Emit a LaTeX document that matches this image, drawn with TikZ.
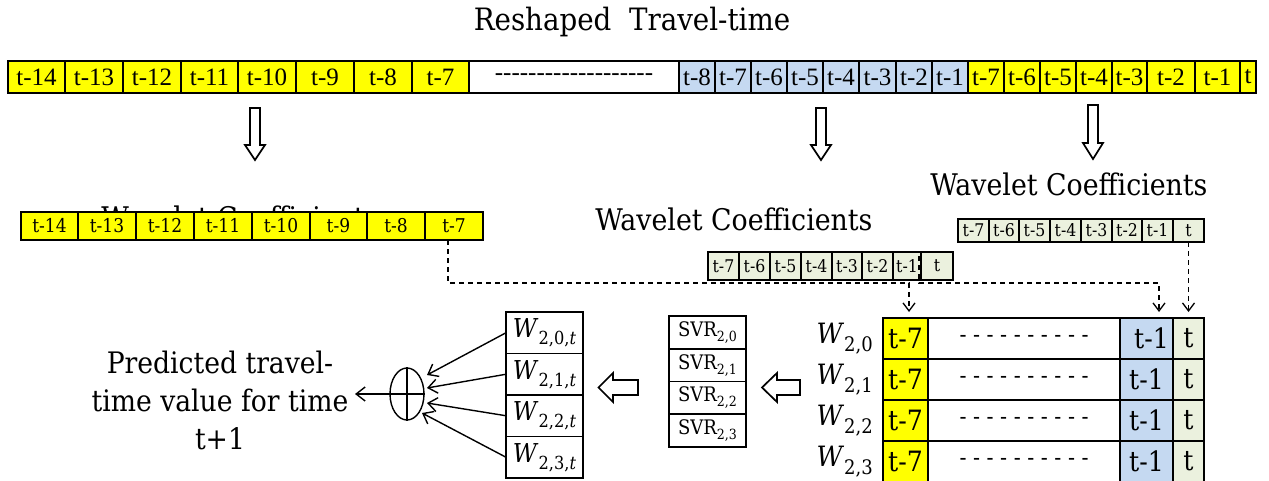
\documentclass[tikz,border=0pt]{standalone}
\usepackage{fontspec}
\setmainfont{DejaVu Serif Condensed}
\newfontfamily\timesfont{Liberation Serif}
\usetikzlibrary{shapes.geometric,arrows.meta,calc}

\definecolor{cellyellow}{RGB}{255,255,0}
\definecolor{cellblue}{RGB}{197,217,241}
\definecolor{cellgreen}{RGB}{235,241,222}

\tikzset{
  cellbox/.style={draw=black, line width=1.6pt, inner sep=0pt, outer sep=0pt, anchor=north west},
  toprow/.style={cellbox, minimum height=32pt, font=\timesfont\fontsize{25}{28}\selectfont},
  lowrow/.style={cellbox, fill=cellyellow, minimum height=28pt, font=\fontsize{19}{22}\selectfont},
  greenrow/.style={cellbox, fill=cellgreen, font=\fontsize{17.5}{21}\selectfont},
  gridcell/.style={cellbox, minimum height=41pt, font=\fontsize{28}{32}\selectfont},
  lbl/.style={font=\fontsize{29.8}{34}\selectfont, anchor=base, inner sep=0pt},
  dashconn/.style={line width=1.3pt, dash pattern=on 5pt off 4pt, shorten >=6pt,
    -{Straight Barb[length=8pt,width=12pt,line width=1.3pt]}},
  sumarrow/.style={line width=1.4pt, -{Straight Barb[length=9pt,width=14pt,line width=1.4pt]}},
  blockarrow/.style={draw=black, line width=1.7pt, fill=white, line join=miter},
}

% text with a lowered index: base, index size, drop, index
\newcommand\withsub[4]{#1\raisebox{-#3}{\fontsize{#2}{#2}\selectfont #4}}

% hollow block arrow pointing down: centre x, top y, head start y, tip y
\newcommand\dnarrow[4]{%
  \draw[blockarrow] ({#1-5},#2) -- ({#1+5},#2) -- ({#1+5},#3) -- ({#1+10},#3)
    -- (#1,#4) -- ({#1-10},#3) -- ({#1-5},#3) -- cycle;}
% hollow block arrow pointing left: tip x, head back x, tail x, centre y
\newcommand\lfarrow[4]{%
  \draw[blockarrow] (#1,#4) -- (#2,{#4-14.5}) -- (#2,{#4-7.5}) -- (#3,{#4-7.5})
    -- (#3,{#4+7.5}) -- (#2,{#4+7.5}) -- (#2,{#4+14.5}) -- cycle;}

\begin{document}
\begin{tikzpicture}[x=1pt,y=-1pt]
\useasboundingbox (0,0) rectangle (1269,481);

% title
\node[lbl, font=\fontsize{30.8}{35}\selectfont] (title) at (632,31) {Reshaped\ \ Travel-time};

% reshaped travel-time series
\foreach \xa/\xb/\txt/\nm in {8/65/t-14/ta1, 65/123/t-13/ta2, 123/181/t-12/ta3, 181/238/t-11/ta4,
    238/296/t-10/ta5, 296/354/t-9/ta6, 354/412/t-8/ta7, 412/469/t-7/ta8}
  \node[toprow, fill=cellyellow, minimum width={(\xb-\xa)*1pt}] (\nm) at (\xa,61) {\txt};
\node[toprow, fill=white, minimum width=210pt] (tgap) at (469,61) {-------------------};
\foreach \xa/\xb/\txt/\nm in {679/715/t-8/tb1, 715/751/t-7/tb2, 751/787/t-6/tb3, 787/823/t-5/tb4,
    823/859/t-4/tb5, 859/896/t-3/tb6, 896/932/t-2/tb7, 932/968/t-1/tb8}
  \node[toprow, fill=cellblue, minimum width={(\xb-\xa)*1pt}] (\nm) at (\xa,61) {\txt};
\foreach \xa/\xb/\txt/\nm in {968/1004/t-7/tc1, 1004/1040/t-6/tc2, 1040/1076/t-5/tc3, 1076/1112/t-4/tc4,
    1112/1147/t-3/tc5, 1147/1195/t-2/tc6, 1195/1240/t-1/tc7, 1240/1256/t/tc8}
  \node[toprow, fill=cellyellow, minimum width={(\xb-\xa)*1pt}] (\nm) at (\xa,61) {\txt};
\draw[line width=2.4pt] (ta1.north west) rectangle (tc8.south east);

% decomposition arrows
\dnarrow{255}{108}{145}{160}
\dnarrow{821}{108}{145}{160}
\dnarrow{1093}{105}{143}{159}

% wavelet coefficient labels
\node[lbl] (wcL) at (240,229) {Wavelet Coefficients};
\node[lbl] (wcM) at (734,230) {Wavelet Coefficients};
\node[lbl] (wcR) at (1069,196) {Wavelet Coefficients};

% approximation coefficients
\foreach \xa/\xb/\txt/\nm in {21/78/t-14/la1, 78/136/t-13/la2, 136/194/t-12/la3, 194/252/t-11/la4,
    252/310/t-10/la5, 310/367/t-9/la6, 367/425/t-8/la7, 425/483/t-7/la8}
  \node[lowrow, minimum width={(\xb-\xa)*1pt}] (\nm) at (\xa,212) {\txt};

% detail coefficients, level 2
\foreach \xa/\xb/\txt/\nm in {708/739/t-7/ma1, 739/770/t-6/ma2, 770/801/t-5/ma3, 801/832/t-4/ma4,
    832/862/t-3/ma5, 862/893/t-2/ma6, 893/921/t-1/ma7, 921/953/t/ma8}
  \node[greenrow, minimum height=28pt, minimum width={(\xb-\xa)*1pt}] (\nm) at (\xa,252) {\txt};

% detail coefficients, level 1
\foreach \xa/\xb/\txt/\nm in {958/989/t-7/ra1, 989/1019/t-6/ra2, 1019/1050/t-5/ra3, 1050/1081/t-4/ra4,
    1081/1112/t-3/ra5, 1112/1142/t-2/ra6, 1142/1173/t-1/ra7, 1173/1204/t/ra8}
  \node[greenrow, minimum height=23pt, minimum width={(\xb-\xa)*1pt}] (\nm) at (\xa,219) {\txt};

% coefficient matrix fed to the regressors
\foreach \r in {1,...,4}{
  \pgfmathsetmacro\ytop{318+41*(\r-1)}
  \pgfmathtruncatemacro\k{\r-1}
  \node[gridcell, fill=cellyellow, minimum width=45pt] (gy\r) at (883,\ytop) {t-7};
  \node[gridcell, fill=white, minimum width=192pt, font=\fontsize{23}{26}\selectfont] (gw\r) at (928,\ytop) {- - - - - - - - - -};
  \node[gridcell, fill=cellblue, minimum width=53pt] (gb\r) at (1120,\ytop) {\ifnum\r=1 \hspace*{10pt}\fi t-1};
  \node[gridcell, fill=cellgreen, minimum width=31pt] (gg\r) at (1173,\ytop) {t};
  \node[anchor=east, inner sep=0pt, font=\fontsize{28}{32}\selectfont] (wl\k) at ([xshift=-10pt]gy\r.west)
    {\withsub{\textit{W}}{20}{8pt}{2,\k}};
}

% dashed feeds into the matrix columns
\coordinate (kL1) at (448,283);
\coordinate (kL2) at (909,283);
\draw[dashconn] (kL1 |- la8.south) -- (kL1) -- (kL2) -- (kL2 |- gy1.north);
\coordinate (kM1) at (919,283);
\coordinate (kM2) at (1159,283);
\draw[dashconn] ([xshift=-2pt,yshift=-4pt]ma7.north east) -- (kM1) -- (kM2) -- (kM2 |- gb1.north);
\draw[dashconn] (ra8.south) -- (ra8.south |- gg1.north);

% support vector regressors
\foreach \k in {0,...,3}{
  \pgfmathsetmacro\ytop{316+32.75*\k}
  \node[cellbox, fill=white, minimum width=77pt, minimum height=32.75pt, font=\fontsize{20}{24}\selectfont]
    (svr\k) at (669,\ytop) {\withsub{SVR}{14}{5pt}{2,\k}};
}
\lfarrow{762}{777}{800}{387.5}
\lfarrow{598.5}{613}{638}{387.5}

% predicted coefficients
\foreach \k in {0,...,3}{
  \pgfmathsetmacro\ytop{312+41.5*\k}
  \node[cellbox, fill=white, minimum width=77pt, minimum height=41.5pt, font=\fontsize{26}{30}\selectfont]
    (wt\k) at (506,\ytop) {\withsub{\textit{W}}{18}{7pt}{2,\k,\textit{t}}};
}

% summation
\node[ellipse, draw, line width=1.4pt, minimum width=34pt, minimum height=52pt, inner sep=0pt] (sum) at (407,394) {};
\draw[line width=1.4pt] (sum.north) -- (sum.south) (sum.west) -- (sum.east);
\coordinate (in0) at (427,375);
\coordinate (in1) at (427,388);
\coordinate (in2) at (427,403);
\coordinate (in3) at (422,413);
\draw[sumarrow] (wt0.west) -- (in0);
\draw[sumarrow] (wt1.west) -- (in1);
\draw[sumarrow] (wt2.west) -- (in2);
\draw[sumarrow] (wt3.west) -- (in3);
\coordinate (outtip) at (355,394);
\draw[sumarrow] (sum.west) -- (outtip);

\node[align=center, inner sep=0pt, font=\fontsize{29.6}{38}\selectfont] (pred) at (220,400)
  {Predicted travel-\\time value for time\\t+1};
\end{tikzpicture}
\end{document}
